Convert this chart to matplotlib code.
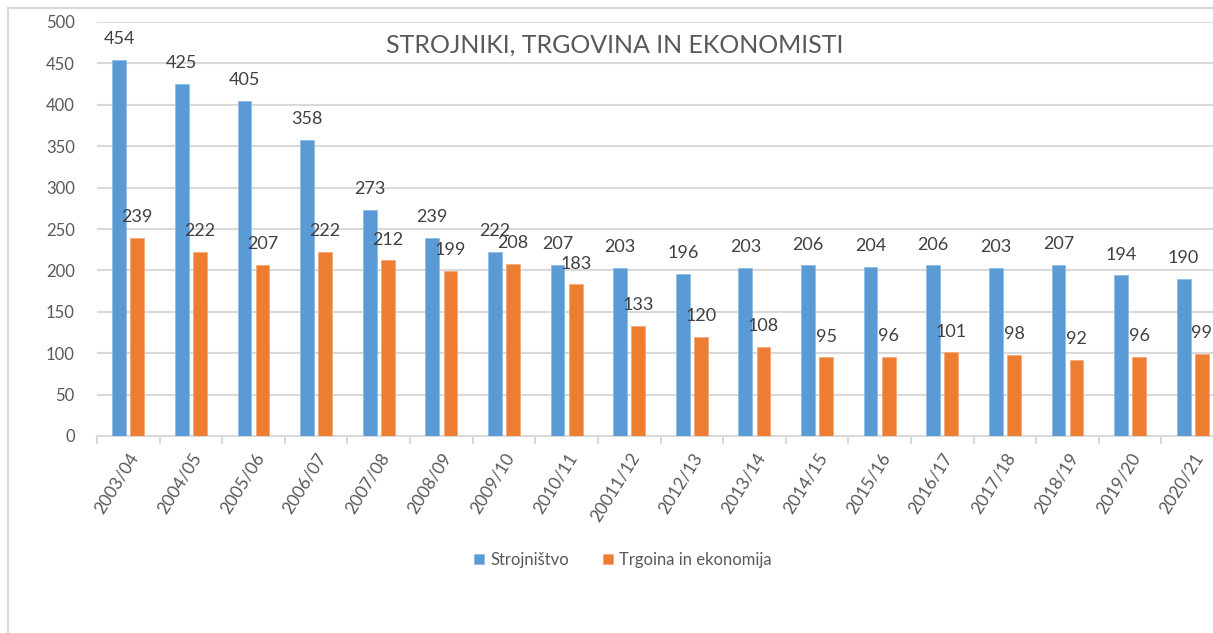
import numpy as np
import matplotlib.pyplot as plt
from matplotlib.patches import Rectangle

plt.rcParams['font.family'] = ['Lato', 'DejaVu Sans']

years = ["2003/04", "2004/05", "2005/06", "2006/07", "2007/08", "2008/09",
         "2009/10", "2010/11", "20011/12", "2012/13", "2013/14", "2014/15",
         "2015/16", "2016/17", "2017/18", "2018/19", "2019/20", "2020/21"]
strojnistvo = [454, 425, 405, 358, 273, 239, 222, 207, 203, 196, 203, 206,
               204, 206, 203, 207, 194, 190]
trgovina = [239, 222, 207, 222, 212, 199, 208, 183, 133, 120, 108, 95,
            96, 101, 98, 92, 96, 99]

blue = "#5B9BD5"
orange = "#ED7D31"
grid = "#D9D9D9"
txt = "#595959"
lbl = "#404040"

fig = plt.figure(figsize=(12.13, 6.33), dpi=100)
fig.patch.set_facecolor("white")

# chart frame (cut off at right/bottom like the screenshot)
fig.patches.append(Rectangle((8 / 1213, -0.1), 1.2, (633 - 8) / 633 + 0.1,
                             transform=fig.transFigure, fill=False,
                             edgecolor=grid, linewidth=1.5))

ax = fig.add_axes([97 / 1213, 197 / 633, 1127 / 1213, 414 / 633])
x = np.arange(len(years))
w = 0.22
off = 0.145

b1 = ax.bar(x - off, strojnistvo, w, color=blue, edgecolor="#8FBCE6",
            linewidth=0.6, label="Strojništvo", zorder=3)
b2 = ax.bar(x + off, trgovina, w, color=orange, edgecolor="#F4A97A",
            linewidth=0.6, label="Trgoina in ekonomija", zorder=3)

for bars, vals in ((b1, strojnistvo), (b2, trgovina)):
    for b, v in zip(bars, vals):
        ax.annotate(str(v), (b.get_x() + b.get_width() / 2, v),
                    xytext=(0, 15), textcoords="offset points",
                    ha="center", va="center", fontsize=13, color=lbl,
                    zorder=5)

ax.set_xlim(-0.5, len(years) - 0.5)
ax.set_ylim(0, 500)
ax.set_yticks(range(0, 501, 50))
ax.yaxis.grid(True, color=grid, linewidth=1.5, zorder=0)
ax.set_axisbelow(True)
for s in ["top", "right", "left"]:
    ax.spines[s].set_visible(False)
ax.spines["bottom"].set_color(grid)
ax.spines["bottom"].set_linewidth(1.5)
ax.tick_params(axis="y", length=0, labelsize=12, labelcolor=txt, pad=16)

ax.set_xticks(np.arange(-0.5, len(years), 1.0))
ax.set_xticklabels([])
ax.tick_params(axis="x", which="major", length=6, width=1.5, color=grid)
ax.set_xticks(x, minor=True)
ax.set_xticklabels(years, minor=True, rotation=58, ha="right", va="top",
                   rotation_mode="anchor", fontsize=12.5, color=txt)
ax.tick_params(axis="x", which="minor", length=0, pad=10)

ax.set_facecolor("white")

fig.text(615 / 1213, 1 - 45 / 633, "STROJNIKI, TRGOVINA IN EKONOMISTI",
         ha="center", va="center", fontsize=18, color=txt,
         bbox=dict(facecolor="white", edgecolor="none", pad=2), zorder=10)

fig.legend(handles=[b1, b2], loc="center", bbox_to_anchor=(623 / 1213, 1 - 560 / 633),
           ncol=2, frameon=False, fontsize=12, labelcolor=txt,
           handlelength=0.6, handleheight=0.6, handletextpad=0.4,
           columnspacing=2.0)

fig.savefig("out.png", dpi=100)
